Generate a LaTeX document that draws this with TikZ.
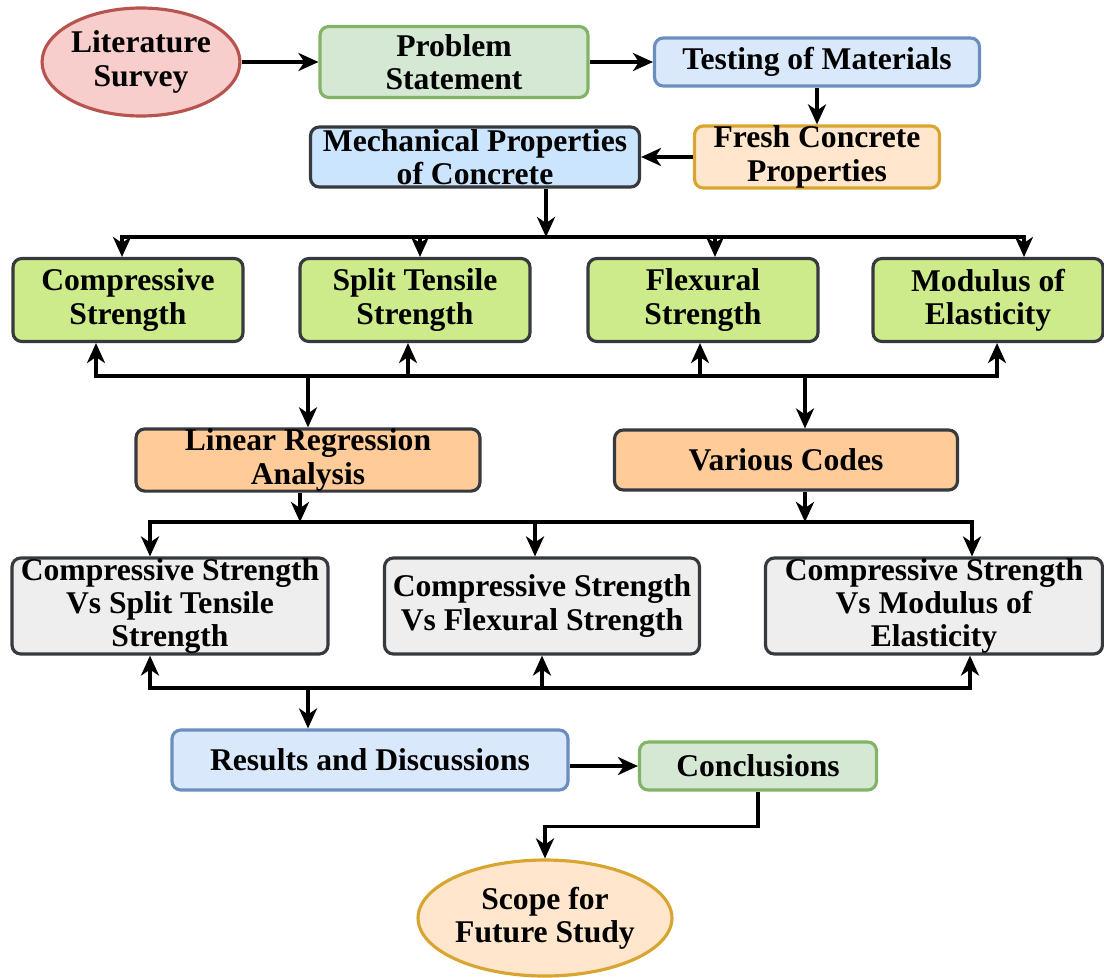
\documentclass[tikz,border=0pt]{standalone}
\usepackage{fontspec}
\setmainfont{Liberation Serif}
\usetikzlibrary{arrows.meta}
\usetikzlibrary{positioning}
\usetikzlibrary{shapes.geometric}
\usepackage{xcolor}
\definecolor{edgegrey}{HTML}{36393D}
\definecolor{rosefill}{HTML}{F8CECC}
\definecolor{roseedge}{HTML}{B85450}
\definecolor{mintfill}{HTML}{D5E8D4}
\definecolor{mintedge}{HTML}{82B366}
\definecolor{skyfill}{HTML}{DAE8FC}
\definecolor{skyedge}{HTML}{6C8EBF}
\definecolor{mechfill}{HTML}{CCE5FF}
\definecolor{peachfill}{HTML}{FFE6CC}
\definecolor{goldedge}{HTML}{D8A530}
\definecolor{limefill}{HTML}{CDEB8B}
\definecolor{orangefill}{HTML}{FFCC99}
\definecolor{greyfill}{HTML}{EEEEEE}

\begin{document}
\begin{tikzpicture}[
        x=0.02cm, y=-0.02cm,
        block/.style={rectangle, draw=edgegrey, line width=1.8pt,
          rounded corners=5pt, align=center, inner sep=0pt,
          font=\bfseries\fontsize{18}{19}\selectfont},
        oval/.style={ellipse, line width=1.8pt, align=center, inner sep=0pt,
          font=\bfseries\fontsize{18}{19}\selectfont},
        arrow/.style={-{Stealth[length=4mm,width=3.6mm,inset=1.2mm]},
          line width=2pt},
      ]
        \useasboundingbox (0,0) rectangle (1104,977);

        \node[oval, draw=roseedge, fill=rosefill, minimum width=3.64cm,
          minimum height=2.16cm] (lit) at (141,62) {Literature\\Survey};
        \node[block, draw=mintedge, fill=mintfill, minimum width=5.36cm,
          minimum height=1.42cm] (prob) at (454,62) {Problem\\Statement};
        \node[block, draw=skyedge, fill=skyfill, minimum width=6.5cm,
          minimum height=0.96cm] (test) at (817,62) {Testing of Materials};
        \node[block, draw=goldedge, fill=peachfill, minimum width=4.9cm,
          minimum height=1.2cm] (fresh) at (817,157) {Fresh Concrete\\Properties};
        \node[block, fill=mechfill, minimum width=6.58cm,
          minimum height=1.2cm] (mech) at (475,157) {Mechanical Properties\\of Concrete};

        \node[block, fill=limefill, minimum width=4.6cm, minimum height=1.66cm]
          (comp) at (128,300) {Compressive\\Strength};
        \node[block, fill=limefill, minimum width=4.6cm, minimum height=1.66cm]
          (split) at (415,300) {Split Tensile\\Strength};
        \node[block, fill=limefill, minimum width=4.6cm, minimum height=1.66cm]
          (flex) at (703,300) {Flexural\\Strength};
        \node[block, fill=limefill, minimum width=4.6cm, minimum height=1.66cm]
          (modul) at (988,300) {Modulus of\\Elasticity};

        \node[block, fill=orangefill, minimum width=6.88cm, minimum height=1.2cm]
          (linreg) at (308,460) {Linear Regression\\Analysis};
        \node[block, fill=orangefill, minimum width=6.86cm, minimum height=1.2cm]
          (codes) at (786,460) {Various Codes};

        \node[block, fill=greyfill, minimum width=6.32cm, minimum height=1.92cm]
          (csst) at (170,606) {Compressive Strength\\Vs Split Tensile\\Strength};
        \node[block, fill=greyfill, minimum width=6.3cm, minimum height=1.92cm]
          (csfs) at (542,606) {Compressive Strength\\Vs Flexural Strength};
        \node[block, fill=greyfill, minimum width=6.74cm, minimum height=1.92cm]
          (csme) at (934,606) {Compressive Strength\\Vs Modulus of\\Elasticity};

        \node[block, draw=skyedge, fill=skyfill, minimum width=7.92cm,
          minimum height=1.2cm] (results) at (370,760) {Results and Discussions};
        \node[block, draw=mintedge, fill=mintfill, minimum width=4.74cm,
          minimum height=0.96cm] (concl) at (758,766) {Conclusions};
        \node[oval, draw=goldedge, fill=peachfill, minimum width=4.88cm,
          minimum height=2.32cm] (scope) at (545,918) {Scope for\\Future Study};

        \coordinate (busA) at (546,237);
        \coordinate (busB) at (550,376);
        \coordinate (busC) at (550,522);
        \coordinate (busD) at (550,688);

        \draw[arrow] (lit) -- (prob);
        \draw[arrow] (prob) -- (test);
        \draw[arrow] (test) -- (fresh);
        \draw[arrow] (fresh) -- (mech);

        \draw[arrow] (mech.south -| busA) -- (busA);
        \draw[arrow] (busA) -| ([xshift=-0.12cm]comp.north);
        \draw[arrow] (busA) -| ([xshift=0.1cm]split.north);
        \draw[arrow] (busA) -| ([xshift=0.24cm]flex.north);
        \draw[arrow] (busA) -| ([xshift=0.72cm]modul.north);

        \draw[arrow] (busB) -| ([xshift=-0.64cm]comp.south);
        \draw[arrow] (busB) -| ([xshift=-0.14cm]split.south);
        \draw[arrow] (busB) -| ([xshift=-0.06cm]flex.south);
        \draw[arrow] (busB) -| ([xshift=0.18cm]modul.south);
        \draw[arrow] (busB) -| (linreg.north);
        \draw[arrow] (busB) -| ([xshift=0.38cm]codes.north);

        \draw[arrow] ([xshift=-0.16cm]linreg.south) -- ([xshift=-0.16cm]linreg.south |- busC);
        \draw[arrow] ([xshift=0.38cm]codes.south) -- ([xshift=0.38cm]codes.south |- busC);
        \draw[arrow] (busC) -| ([xshift=-0.4cm]csst.north);
        \draw[arrow] (busC) -| ([xshift=-0.14cm]csfs.north);
        \draw[arrow] (busC) -| ([xshift=0.76cm]csme.north);

        \draw[arrow] (busD) -| ([xshift=-0.4cm]csst.south);
        \draw[arrow] (busD) -| (csfs.south);
        \draw[arrow] (busD) -| ([xshift=0.72cm]csme.south);
        \draw[arrow] (busD) -| ([xshift=-1.24cm]results.north);

        \draw[arrow] (results.east |- concl) -- (concl.west);
        \draw[arrow] (concl.south) -- ++(0,35) -| (scope.north);
      \end{tikzpicture}
\end{document}
